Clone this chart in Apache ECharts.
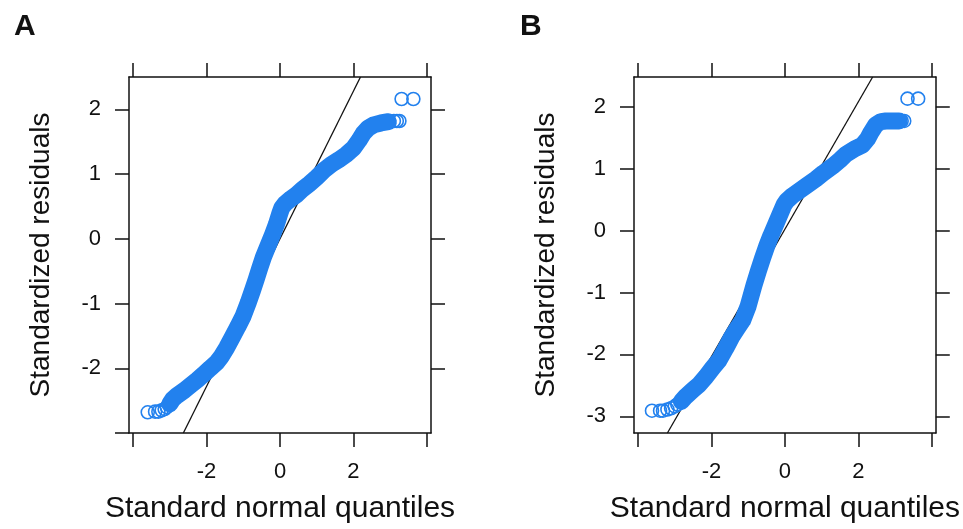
<!DOCTYPE html>
<html>
<head>
<meta charset="utf-8">
<script src="https://cdn.jsdelivr.net/npm/echarts@6/dist/echarts.min.js"></script>
<style>
  html, body { margin: 0; padding: 0; background: #fff; }
  #chart { width: 963px; height: 529px; }
</style>
</head>
<body>
<div id="chart"></div>
<script>
// Q-Q points: [standard normal quantile, standardized residual]
var qqA = [
  [-3.60,-2.68], [-3.40,-2.67], [-3.31,-2.67], [-3.22,-2.65], [-3.14,-2.63], [-3.08,-2.60],
  [-3.00,-2.55], [-2.92,-2.48], [-2.80,-2.42], [-2.60,-2.34], [-2.45,-2.27], [-2.25,-2.18],
  [-2.09,-2.10], [-1.90,-2.00], [-1.72,-1.91], [-1.60,-1.82], [-1.45,-1.68], [-1.30,-1.52],
  [-1.15,-1.36], [-1.00,-1.19], [-0.86,-0.98], [-0.75,-0.80], [-0.65,-0.63], [-0.55,-0.45],
  [-0.45,-0.28], [-0.32,-0.10], [-0.20,0.07], [-0.10,0.22], [0.00,0.40], [0.05,0.48],
  [0.15,0.55], [0.30,0.62], [0.45,0.68], [0.60,0.76], [0.80,0.85], [1.00,0.95],
  [1.20,1.06], [1.40,1.15], [1.60,1.22], [1.80,1.30], [2.00,1.40], [2.15,1.52],
  [2.27,1.63], [2.40,1.71], [2.55,1.76], [2.75,1.79], [2.95,1.81], [3.10,1.82],
  [3.18,1.82], [3.25,1.82], [3.31,2.16], [3.63,2.16]
];
var qqB = [
  [-3.62,-2.91], [-3.40,-2.91], [-3.32,-2.91], [-3.20,-2.89], [-3.10,-2.87], [-3.00,-2.84],
  [-2.93,-2.81], [-2.82,-2.76], [-2.70,-2.68], [-2.50,-2.57], [-2.34,-2.49], [-2.15,-2.36],
  [-1.97,-2.22], [-1.80,-2.10], [-1.61,-1.90], [-1.45,-1.72], [-1.30,-1.58], [-1.15,-1.45],
  [-1.00,-1.22], [-0.84,-0.88], [-0.72,-0.65], [-0.61,-0.45], [-0.50,-0.26], [-0.38,-0.08],
  [-0.25,0.10], [-0.12,0.28], [-0.02,0.42], [0.05,0.48], [0.20,0.56], [0.39,0.64],
  [0.60,0.73], [0.84,0.83], [1.05,0.93], [1.30,1.04], [1.50,1.14], [1.66,1.23],
  [1.90,1.32], [2.11,1.38], [2.25,1.48], [2.34,1.58], [2.48,1.71], [2.62,1.76],
  [2.75,1.77], [2.95,1.77], [3.11,1.77], [3.18,1.77], [3.25,1.77], [3.34,2.13], [3.63,2.13]
];
// dense part of each cloud (start, end index) drawn as a solid band
var bandA = [6, 46];
var bandB = [7, 44];
// reference lines, end points where they meet the frame
var lineA = [[-2.63,-3.0], [2.19,2.5]];
var lineB = [[-3.20,-3.27], [2.39,2.48]];

var xTicks = [-4, -2, 0, 2, 4];
var xLabels = [-2, 0, 2];
var yTicksA = [-3, -2, -1, 0, 1, 2];
var yLabelsA = [-2, -1, 0, 1, 2];
var yTicksA2 = [-2, -1, 0, 1, 2];
var yTicksB = [-3, -2, -1, 0, 1, 2];
var yLabelsB = [-3, -2, -1, 0, 1, 2];

var xRange = [-4.11, 4.11];
var yRangeA = [-3.0, 2.5];
var yRangeB = [-3.27, 2.48];

var FONT = 'Liberation Sans, Arial, sans-serif';
var BLUE = '#2281EE';

function axis(grid, pos, range, ticks, labels, name, nameGap, nameSize) {
  return {
    type: 'value',
    gridIndex: grid,
    position: pos,
    min: range[0],
    max: range[1],
    splitLine: { show: false },
    axisLine: { show: true, onZero: false, lineStyle: { color: '#111', width: 1.5 } },
    axisTick: { show: true, length: 14, customValues: ticks, lineStyle: { color: '#111', width: 1.5 } },
    axisLabel: {
      show: !!labels, customValues: labels || [], margin: 28,
      fontSize: 22, color: '#111', fontFamily: FONT
    },
    name: name || '',
    nameLocation: 'middle',
    nameGap: nameGap || 0,
    nameTextStyle: { fontSize: nameSize || 28, color: '#111', fontFamily: FONT }
  };
}

function seriesFor(pts, band, line, xi, yi) {
  return [
    {
      type: 'line', xAxisIndex: xi, yAxisIndex: yi, data: pts.slice(band[0], band[1] + 1),
      symbol: 'none', smooth: false, silent: true,
      lineStyle: { color: BLUE, width: 17, cap: 'round', join: 'round' }
    },
    {
      type: 'scatter', xAxisIndex: xi, yAxisIndex: yi, data: pts,
      symbol: 'circle', symbolSize: 13,
      itemStyle: { color: 'rgba(0,0,0,0)', borderColor: BLUE, borderWidth: 1.6, opacity: 1 }
    },
    {
      type: 'line', xAxisIndex: xi, yAxisIndex: yi, data: line,
      symbol: 'none', silent: true,
      lineStyle: { color: '#111', width: 1.3 }, z: 1
    }
  ];
}

var chart = echarts.init(document.getElementById('chart'));
var option = {
  backgroundColor: '#fff',
  animation: false,
  title: [
    { text: 'A', left: 9, top: 7, textStyle: { fontSize: 30, fontWeight: 'bold', color: '#111', fontFamily: FONT } },
    { text: 'B', left: 515, top: 7, textStyle: { fontSize: 30, fontWeight: 'bold', color: '#111', fontFamily: FONT } }
  ],
  grid: [
    { left: 129, top: 77, width: 302, height: 357 },
    { left: 634, top: 77, width: 303, height: 358 }
  ],
  xAxis: [
    axis(0, 'bottom', xRange, xTicks, xLabels, 'Standard normal quantiles', 61, 30),
    axis(0, 'top', xRange, xTicks, null),
    axis(1, 'bottom', xRange, xTicks, xLabels, 'Standard normal quantiles', 61, 30),
    axis(1, 'top', xRange, xTicks, null)
  ],
  yAxis: [
    axis(0, 'left', yRangeA, yTicksA, yLabelsA, 'Standardized residuals', 74, 28),
    axis(0, 'right', yRangeA, yTicksA2, null),
    axis(1, 'left', yRangeB, yTicksB, yLabelsB, 'Standardized residuals', 74, 28),
    axis(1, 'right', yRangeB, yTicksB, null)
  ],
  series: [].concat(
    seriesFor(qqA, bandA, lineA, 0, 0),
    seriesFor(qqB, bandB, lineB, 2, 2)
  )
};
chart.setOption(option);
</script>
</body>
</html>
